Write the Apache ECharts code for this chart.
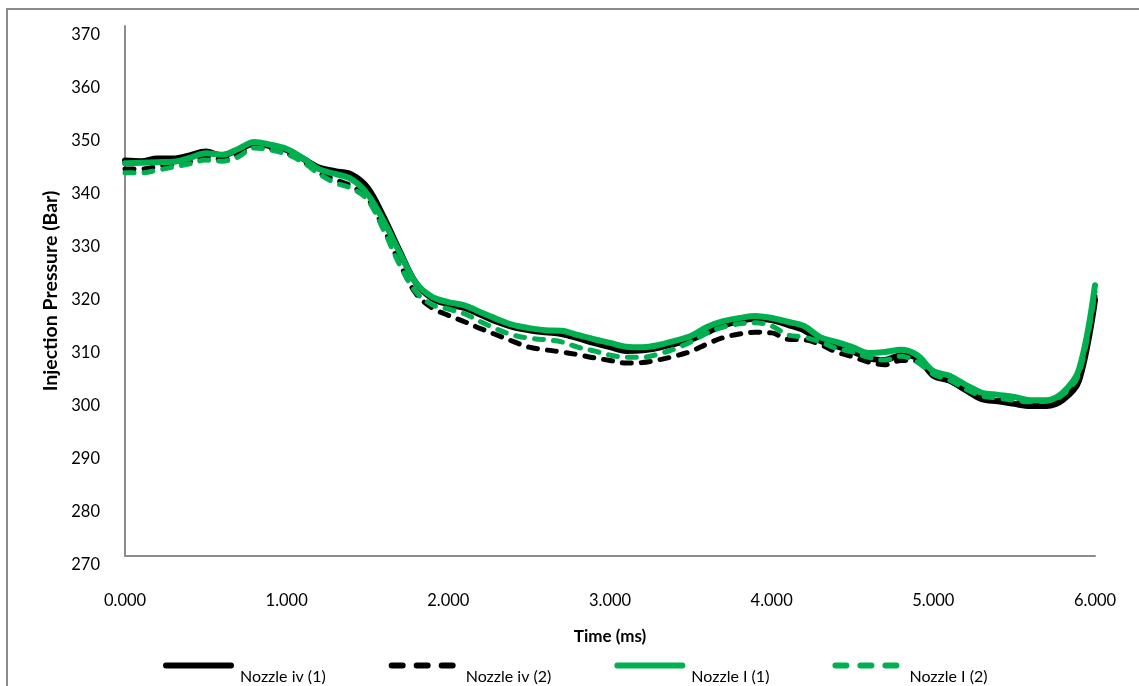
<!DOCTYPE html>
<html>
<head>
<meta charset="utf-8">
<script src="https://cdn.jsdelivr.net/npm/echarts@6/dist/echarts.min.js"></script>
<style>html,body{margin:0;padding:0;background:#fff}#c{width:1139px;height:686px}</style>
</head>
<body>
<div id="c"></div>
<script>
const time = [0.0,0.1,0.2,0.3,0.4,0.5,0.6,0.7,0.8,0.9,1.0,1.1,1.2,1.3,1.4,1.5,1.6,1.7,1.8,1.9,2.0,2.1,2.2,2.3,2.4,2.5,2.6,2.7,2.8,2.9,3.0,3.1,3.2,3.3,3.4,3.5,3.6,3.7,3.8,3.9,4.0,4.1,4.2,4.3,4.4,4.5,4.6,4.7,4.8,4.9,5.0,5.1,5.2,5.3,5.4,5.5,5.6,5.7,5.8,5.9,6.0];
const seriesNames = ['Nozzle iv (1)', 'Nozzle iv (2)', 'Nozzle I (1)', 'Nozzle I (2)'];
const nozzleIv1 = [344.6,344.5,345.0,345.0,345.6,346.3,345.6,346.6,347.8,347.3,346.6,345.0,343.3,342.6,342.0,339.5,334.0,327.5,321.5,318.6,317.5,316.8,315.5,314.2,313.2,312.6,312.2,311.9,311.1,310.2,309.4,308.7,308.8,309.3,310.0,310.8,312.2,313.5,314.3,314.8,314.5,313.6,312.6,310.6,309.6,308.6,307.3,307.0,307.9,307.4,304.0,303.1,301.3,299.6,299.2,298.7,298.3,298.3,299.4,303.0,318.3];
const nozzleIv2 = [343.0,343.0,343.5,343.9,344.4,345.4,344.8,345.8,347.4,346.9,346.0,344.5,342.3,341.0,339.8,337.5,331.8,325.2,319.5,316.8,315.4,314.2,312.9,311.7,310.5,309.4,308.9,308.5,308.0,307.4,306.9,306.4,306.5,307.0,307.7,308.6,310.0,311.2,311.9,312.2,312.1,310.9,310.8,309.9,308.5,307.6,306.6,306.1,306.9,306.8,304.2,303.0,301.4,299.8,299.4,299.0,298.8,298.8,299.9,303.6,319.0];
const nozzleI1 = [344.1,344.2,344.3,344.4,345.1,346.0,345.7,346.8,348.1,347.6,346.8,345.1,343.0,342.1,341.1,338.3,333.2,327.2,321.5,318.9,317.9,317.3,316.0,314.7,313.6,313.0,312.6,312.5,311.7,310.9,310.2,309.5,309.4,309.8,310.6,311.5,313.2,314.3,314.9,315.3,314.9,314.2,313.4,311.3,310.4,309.4,308.3,308.5,308.9,307.9,304.9,304.0,302.3,300.8,300.4,300.0,299.4,299.4,300.8,305.1,321.1];
const nozzleI2 = [342.3,342.3,342.8,343.4,344.0,344.7,344.5,345.3,347.0,346.6,345.8,344.3,342.1,340.4,339.4,337.2,331.5,324.9,319.8,317.4,316.6,315.7,314.2,312.8,311.7,311.1,310.8,310.4,309.4,308.7,307.9,307.5,307.5,308.1,309.1,310.4,312.1,313.2,313.8,314.0,313.4,311.7,311.3,310.4,309.2,308.5,307.5,307.0,307.7,306.6,304.3,303.2,301.5,300.2,299.8,299.4,299.1,299.2,300.4,304.3,319.8];
const xTicks = [0, 1, 2, 3, 4, 5, 6];
const yTicks = [270, 280, 290, 300, 310, 320, 330, 340, 350, 360, 370];

const pair = (arr) => time.map((t, i) => [t, arr[i]]);
const FONT = 'Lato';
const chart = echarts.init(document.getElementById('c'), null, {renderer: 'canvas'});
const GREEN = '#00B050';
const DASH = [9, 10];

function line(name, arr, color, dashed) {
  return {
    name: name, type: 'line', data: pair(arr), smooth: 0.35, showSymbol: false, symbol: 'none', symbolSize: 0,
    lineStyle: dashed ? {color: color, width: 5, type: DASH, cap: 'round'} : {color: color, width: 6, cap: 'round'},
    itemStyle: {color: color},
    emphasis: {disabled: true}, animation: false
  };
}
function legendItem(name, color, dashed) {
  return {
    name: name,
    itemStyle: {opacity: 0},
    lineStyle: dashed ? {color: color, width: 6, type: [11, 14], cap: 'round', opacity: 1} : {color: color, width: 6, cap: 'round', opacity: 1}
  };
}

chart.setOption({
  animation: false,
  backgroundColor: '#fff',
  textStyle: {fontFamily: FONT},
  graphic: [{type: 'rect', shape: {x: 7, y: 9, width: 1300, height: 900}, style: {fill: 'none', stroke: '#8a8a8a', lineWidth: 2}, silent: true}],
  grid: {left: 125, right: 44, top: 26, bottom: 130},
  legend: {
    left: 158, top: 655, itemWidth: 65, itemHeight: 14, itemGap: 63,
    itemStyle: {opacity: 0},
    data: [
      legendItem(seriesNames[0], '#000', false),
      legendItem(seriesNames[1], '#000', true),
      legendItem(seriesNames[2], GREEN, false),
      legendItem(seriesNames[3], GREEN, true)
    ],
    formatter: n => '{a|' + n + '}',
    textStyle: {fontFamily: FONT, fontSize: 16, color: '#000',
      rich: {a: {fontFamily: FONT, fontSize: 16, color: '#000', padding: [22, 0, 0, 4]}}}
  },
  xAxis: {
    type: 'value', min: xTicks[0], max: xTicks[xTicks.length - 1], interval: 1,
    name: 'Time (ms)', nameLocation: 'middle', nameGap: 72,
    nameTextStyle: {fontFamily: FONT, fontSize: 17, fontWeight: 'bold', color: '#000'},
    axisLine: {lineStyle: {color: '#8c8c8c', width: 2}},
    axisTick: {show: false}, splitLine: {show: false},
    axisLabel: {margin: 36, fontFamily: FONT, fontSize: 16.5, color: '#000', formatter: v => v.toFixed(3)}
  },
  yAxis: {
    type: 'value', min: yTicks[0], max: yTicks[yTicks.length - 1], interval: 10,
    name: 'Injection Pressure (Bar)', nameLocation: 'middle', nameGap: 63, nameRotate: 90,
    nameTextStyle: {fontFamily: FONT, fontSize: 19.5, fontWeight: 'bold', color: '#000'},
    axisLine: {show: true, lineStyle: {color: '#8c8c8c', width: 2}},
    axisTick: {show: false}, splitLine: {show: false},
    axisLabel: {margin: 25, fontFamily: FONT, fontSize: 16.5, color: '#000', verticalAlign: 'top', lineHeight: 18}
  },
  series: [
    line(seriesNames[0], nozzleIv1, '#000', false),
    line(seriesNames[1], nozzleIv2, '#000', true),
    line(seriesNames[2], nozzleI1, GREEN, false),
    line(seriesNames[3], nozzleI2, GREEN, true)
  ]
});
</script>
</body>
</html>
